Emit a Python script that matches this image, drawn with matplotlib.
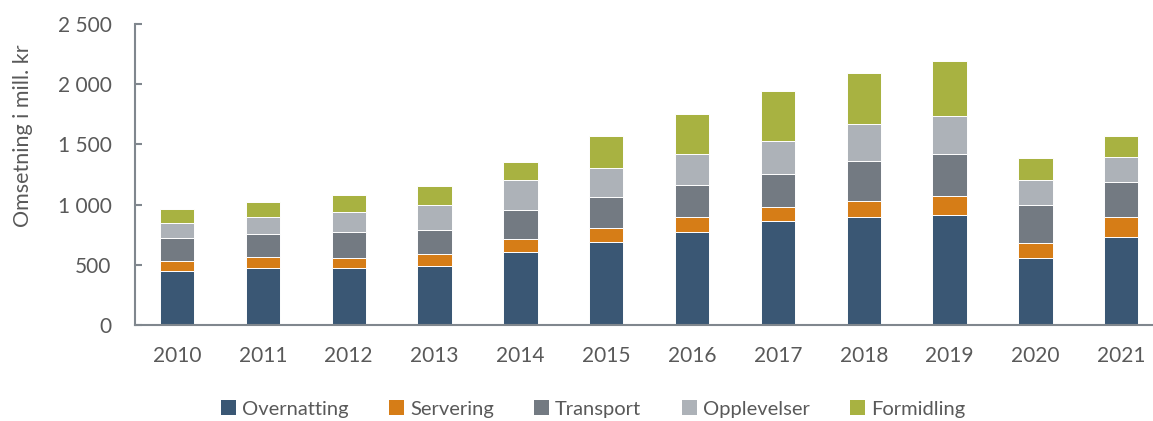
import matplotlib
matplotlib.use("Agg")
from matplotlib import pyplot as plt
from matplotlib.ticker import FuncFormatter
import numpy as np

years = ['2010', '2011', '2012', '2013', '2014', '2015',
         '2016', '2017', '2018', '2019', '2020', '2021']
overnatting = [451, 476, 471, 493, 603, 692, 770, 864, 900, 915, 553, 734]
servering = [83, 89, 83, 94, 114, 111, 131, 116, 127, 153, 127, 165]
transport = [188, 193, 221, 205, 241, 260, 258, 277, 338, 355, 319, 288]
opplevelser = [125, 136, 163, 204, 246, 238, 265, 270, 301, 310, 202, 208]
formidling = [116, 127, 142, 161, 150, 268, 329, 415, 424, 462, 183, 172]

series = ['Overnatting', 'Servering', 'Transport', 'Opplevelser', 'Formidling']
colors = ['#3a5774', '#d67d17', '#737a82', '#adb2b8', '#a8b241']

plt.rcParams['font.family'] = ['Lato', 'DejaVu Sans']
txt = '#595959'
axc = '#80878e'

fig = plt.figure(figsize=(11.53, 4.21), dpi=100)
ax = fig.add_axes([135 / 1153, 1 - 325 / 421, 1 - 135 / 1153, (325 - 24) / 421])

x = np.arange(len(years))
bottom = np.zeros(len(years))
for name, vals, col in zip(series, [overnatting, servering, transport, opplevelser, formidling], colors):
    ax.bar(x, vals, width=0.4, bottom=bottom, color=col, label=name,
           edgecolor='white', linewidth=0.7)
    bottom += np.array(vals)

ax.set_xlim(-0.49, 11.37)
ax.set_ylim(0, 2500)
ax.set_yticks(np.arange(0, 2501, 500))
ax.yaxis.set_major_formatter(FuncFormatter(lambda v, p: f'{int(v):,}'.replace(',', ' ')))
ax.set_xticks(x)
ax.set_xticklabels(years)

for s in ['top', 'right']:
    ax.spines[s].set_visible(False)
for s in ['left', 'bottom']:
    ax.spines[s].set_color(axc)
    ax.spines[s].set_linewidth(1.5)

ax.tick_params(axis='y', direction='in', length=5, width=1.5, color=axc,
               labelsize=15, labelcolor=txt, pad=17)
ax.tick_params(axis='x', length=0, labelsize=15, labelcolor=txt, pad=15)

fig.text(23 / 1153, 1 - 136 / 421, 'Omsetning i mill. kr', rotation=90,
         ha='center', va='center', fontsize=15.5, color=txt)

leg = fig.legend(loc='center', bbox_to_anchor=(593 / 1153, 1 - 409 / 421), ncol=5,
                 frameon=False, fontsize=14.5, handlelength=0.75, handleheight=0.75,
                 handletextpad=0.3, columnspacing=2.0, labelcolor=txt)
for h in leg.legend_handles:
    h.set_edgecolor('none')

fig.savefig('out.png', dpi=100)
